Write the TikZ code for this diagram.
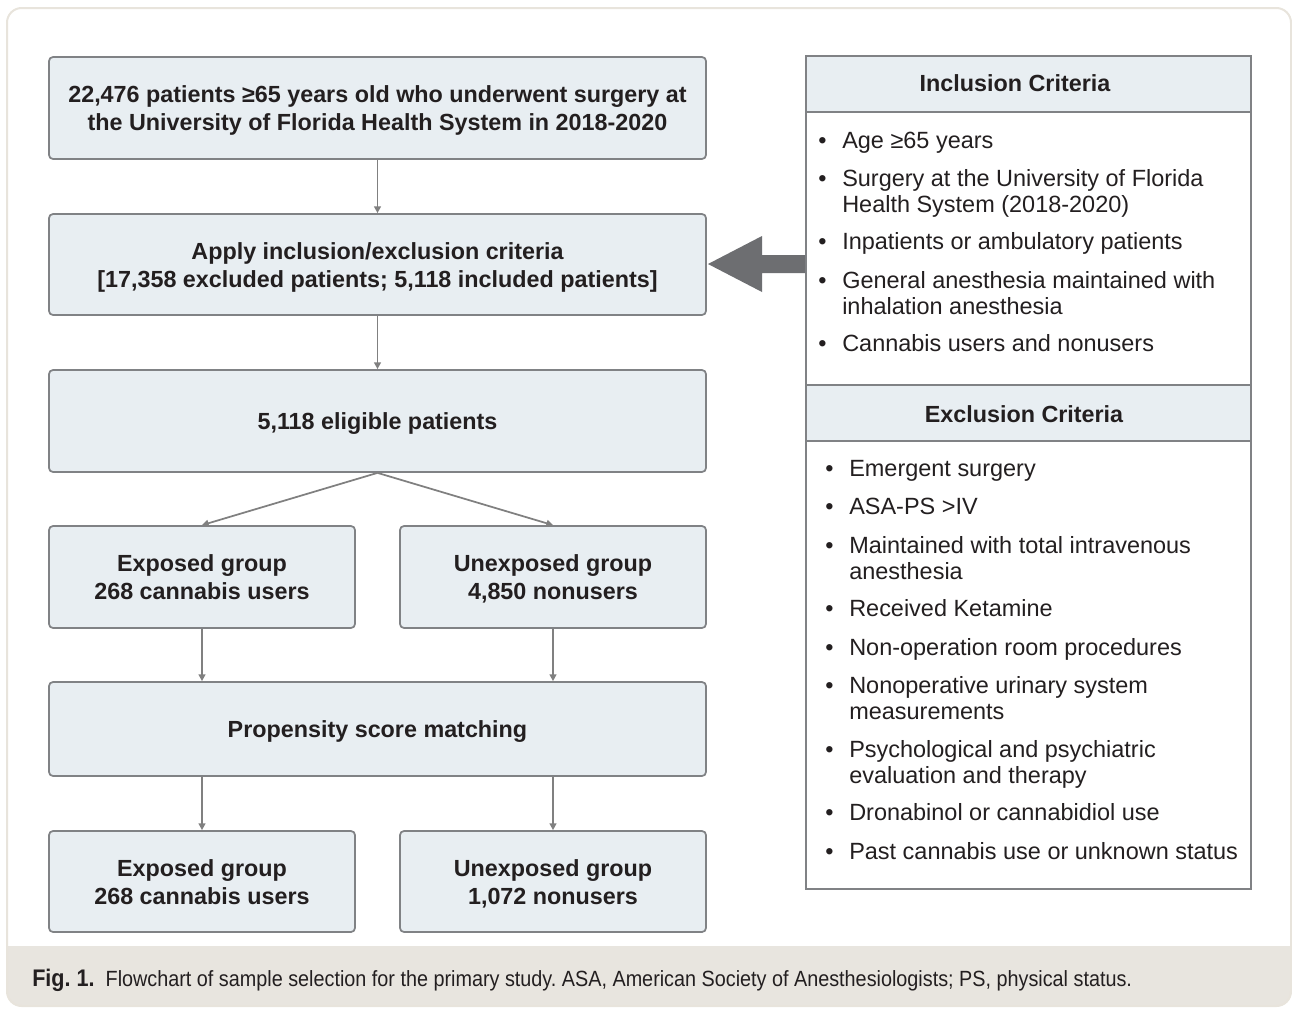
\documentclass[tikz,border=0pt]{standalone}
\usepackage{fontspec}
\setmainfont{Liberation Sans}
\newfontfamily\capcond[FakeStretch=0.9]{Liberation Sans}
\usetikzlibrary{arrows.meta}
\definecolor{boxfill}{HTML}{E8EEF2}
\definecolor{boxline}{HTML}{808285}
\definecolor{arrowc}{HTML}{808080}
\definecolor{bigarrow}{HTML}{6D6E71}
\definecolor{framec}{HTML}{E8E4DC}
\definecolor{capband}{HTML}{E8E5DF}
\definecolor{txt}{HTML}{231F20}
\frenchspacing
\def\pw#1{#1*0.75pt}
\newcommand\ftxt[1]{\raisebox{-2.3pt}[\height][\depth]{\begin{tabular}{@{}c@{}}#1\end{tabular}}}
\newcommand\critem[4]{\node[itemnode] (#1) at (#2,#3)
  {\begin{tabular}[t]{@{}p{18pt}@{}l@{}}•&#4\end{tabular}};}
\begin{document}
\begin{tikzpicture}[x=0.75pt,y=-0.75pt,
  flow/.style={draw=boxline,fill=boxfill,line width=1.3pt,rounded corners=3pt,
    align=center,inner sep=0pt,text=txt,
    font=\bfseries\fontsize{17.5}{21}\selectfont},
  wide/.style={flow,minimum width=\pw{657}},
  half/.style={flow,minimum width=\pw{306}},
  conn/.style={draw=arrowc,line width=1.3pt,-{Triangle[length=5pt,width=5pt]}},
  panelpart/.style={draw=boxline,line width=1.3pt,inner sep=0pt,minimum width=\pw{445}},
  hdrtext/.style={text=txt,font=\bfseries\fontsize{17.5}{21}\selectfont,inner sep=0pt},
  itemnode/.style={anchor=base west,text=txt,inner sep=0pt,
    font=\fontsize{17.6}{19.5}\selectfont},
]
\useasboundingbox (0,0) rectangle (1292,1008);
% outer frame and caption band
\begin{scope}
  \clip[rounded corners=11pt] (7,8) rectangle (1291,1006);
  \fill[white] (7,8) rectangle (1291,1006);
  \fill[capband] (7,946) rectangle (1291,1006);
\end{scope}
\draw[framec,line width=1.5pt,rounded corners=11pt] (7,8) rectangle (1291,1006);

% left flow
\node[wide,minimum height=\pw{102}] (b1) at (377.5,108)
  {\ftxt{22,476 patients ≥65 years old who underwent surgery at\\the University of Florida Health System in 2018-2020}};
\node[wide,minimum height=\pw{101}] (b2) at (377.5,264.5)
  {\ftxt{Apply inclusion/exclusion criteria\\{[}17,358 excluded patients; 5,118 included patients{]}}};
\node[wide,minimum height=\pw{102}] (b3) at (377.5,421) {\ftxt{5,118 eligible patients}};
\node[half,minimum height=\pw{102}] (b4) at (202,577) {\ftxt{Exposed group\\268 cannabis users}};
\node[half,minimum height=\pw{102}] (b5) at (553,577) {\ftxt{Unexposed group\\4,850 nonusers}};
\node[wide,minimum height=\pw{94}] (b6) at (377.5,729) {\ftxt{Propensity score matching}};
\node[half,minimum height=\pw{101}] (b7) at (202,881.5) {\ftxt{Exposed group\\268 cannabis users}};
\node[half,minimum height=\pw{101}] (b8) at (553,881.5) {\ftxt{Unexposed group\\1,072 nonusers}};

\draw[conn] (b1) -- (b2);
\draw[conn] (b2) -- (b3);
\draw[conn] (b3.south) -- (b4.north);
\draw[conn] (b3.south) -- (b5.north);
\draw[conn] (b4.south) -- (b4.south |- b6.north);
\draw[conn] (b5.south) -- (b5.south |- b6.north);
\draw[conn] (b7.north |- b6.south) -- (b7.north);
\draw[conn] (b8.north |- b6.south) -- (b8.north);

% right panel
\node[panelpart,fill=boxfill,minimum height=\pw{56}] (inch) at (1028.5,84) {};
\node[panelpart,fill=white,minimum height=\pw{273}] (incb) at (1028.5,248.5) {};
\node[panelpart,fill=boxfill,minimum height=\pw{56}] (exch) at (1028.5,413) {};
\node[panelpart,fill=white,minimum height=\pw{448}] (excb) at (1028.5,665) {};
\node[hdrtext] (inct) at (1015,83) {Inclusion Criteria};
\node[hdrtext] (exct) at (1024,414) {Exclusion Criteria};

% inclusion items
\critem{i1}{818}{148}{Age ≥65 years}
\critem{i2}{818}{186}{Surgery at the University of Florida\\&Health System (2018-2020)}
\critem{i3}{818}{249}{Inpatients or ambulatory patients}
\critem{i4}{818}{288}{General anesthesia maintained with\\&inhalation anesthesia}
\critem{i5}{818}{351}{Cannabis users and nonusers}
% exclusion items
\critem{e1}{825}{476}{Emergent surgery}
\critem{e2}{825}{514}{ASA-PS >IV}
\critem{e3}{825}{553}{Maintained with total intravenous\\&anesthesia}
\critem{e4}{825}{616}{Received Ketamine}
\critem{e5}{825}{655}{Non-operation room procedures}
\critem{e6}{825}{693}{Nonoperative urinary system\\&measurements}
\critem{e7}{825}{757}{Psychological and psychiatric\\&evaluation and therapy}
\critem{e8}{825}{820}{Dronabinol or cannabidiol use}
\critem{e9}{825}{859}{Past cannabis use or unknown status}

% big arrow from criteria panel to apply box
\coordinate (ptip) at (708,264);
\fill[bigarrow] (incb.west |- 0,255) -- (762,255) -- (762,236) -- (ptip)
  -- (762,292) -- (762,273) -- (incb.west |- 0,273) -- cycle;

% caption
\node[anchor=west,inner sep=0pt,text=txt,font=\capcond\fontsize{16.5}{19}\selectfont] (cap) at (32,980)
  {\textbf{\fontsize{18}{19}\selectfont Fig. 1.}\enspace Flowchart of sample selection for the primary study. ASA, American Society of Anesthesiologists; PS, physical status.};
\end{tikzpicture}
\end{document}
